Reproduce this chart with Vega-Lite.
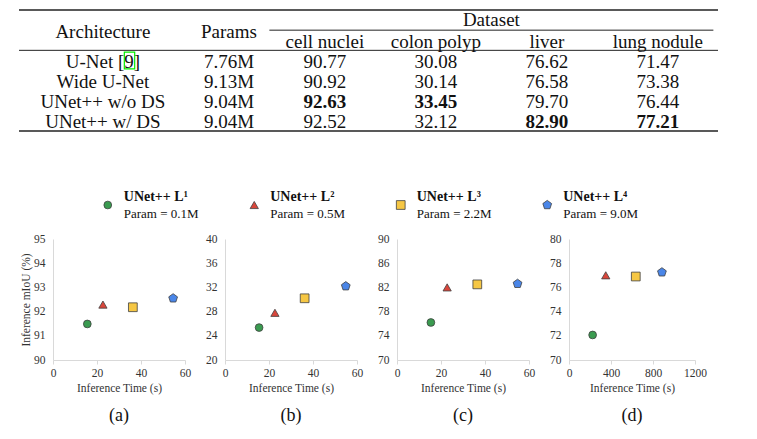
{
  "$schema": "https://vega.github.io/schema/vega-lite/v6.json",
  "padding": {"left": 18, "top": 9, "right": 5, "bottom": 5},
  "spacing": 55,
  "datasets": {
    "results": [
      {"Architecture": "U-Net [9]", "Params": "7.76M", "cell nuclei": 90.77, "colon polyp": 30.08, "liver": 76.62, "lung nodule": 71.47},
      {"Architecture": "Wide U-Net", "Params": "9.13M", "cell nuclei": 90.92, "colon polyp": 30.14, "liver": 76.58, "lung nodule": 73.38},
      {"Architecture": "UNet++ w/o DS", "Params": "9.04M", "cell nuclei": 92.63, "colon polyp": 33.45, "liver": 79.70, "lung nodule": 76.44},
      {"Architecture": "UNet++ w/ DS", "Params": "9.04M", "cell nuclei": 92.52, "colon polyp": 32.12, "liver": 82.90, "lung nodule": 77.21}
    ],
    "models": [
      {"model": "UNet++ L¹", "param": "Param = 0.1M"},
      {"model": "UNet++ L²", "param": "Param = 0.5M"},
      {"model": "UNet++ L³", "param": "Param = 2.2M"},
      {"model": "UNet++ L⁴", "param": "Param = 9.0M"}
    ],
    "points": [
      {"panel": "(a)", "model": "UNet++ L¹", "time": 15.6, "miou": 91.49},
      {"panel": "(a)", "model": "UNet++ L²", "time": 22.7, "miou": 92.29},
      {"panel": "(a)", "model": "UNet++ L³", "time": 36.3, "miou": 92.18},
      {"panel": "(a)", "model": "UNet++ L⁴", "time": 54.6, "miou": 92.55},
      {"panel": "(b)", "model": "UNet++ L¹", "time": 15.5, "miou": 25.36},
      {"panel": "(b)", "model": "UNet++ L²", "time": 22.7, "miou": 27.8},
      {"panel": "(b)", "model": "UNet++ L³", "time": 36.2, "miou": 30.2},
      {"panel": "(b)", "model": "UNet++ L⁴", "time": 54.9, "miou": 32.2},
      {"panel": "(c)", "model": "UNet++ L¹", "time": 15.4, "miou": 76.2},
      {"panel": "(c)", "model": "UNet++ L²", "time": 22.8, "miou": 82.0},
      {"panel": "(c)", "model": "UNet++ L³", "time": 36.5, "miou": 82.5},
      {"panel": "(c)", "model": "UNet++ L⁴", "time": 54.8, "miou": 82.6},
      {"panel": "(d)", "model": "UNet++ L¹", "time": 225, "miou": 72.07},
      {"panel": "(d)", "model": "UNet++ L²", "time": 350, "miou": 77.0},
      {"panel": "(d)", "model": "UNet++ L³", "time": 636, "miou": 76.9},
      {"panel": "(d)", "model": "UNet++ L⁴", "time": 885, "miou": 77.25}
    ]
  },
  "vconcat": [
    {
      "width": 699,
      "height": 121,
      "layer": [
        {
          "data": {"values": [{"row": "Dataset"}]},
          "mark": {"type": "rule", "color": "#222", "strokeWidth": 1.6},
          "encoding": {"y": {"field": "row", "type": "nominal", "bandPosition": 0, "axis": null,
            "scale": {"type": "band", "domain": ["Dataset", "Columns", "U-Net [9]", "Wide U-Net", "UNet++ w/o DS", "UNet++ w/ DS"], "paddingInner": 0, "paddingOuter": 0}}}
        },
        {
          "data": {"values": [{"row": "U-Net [9]"}]},
          "mark": {"type": "rule", "color": "#222", "strokeWidth": 1},
          "encoding": {"y": {"field": "row", "type": "nominal", "bandPosition": 0, "axis": null}}
        },
        {
          "data": {"values": [{"row": "UNet++ w/ DS"}]},
          "mark": {"type": "rule", "color": "#222", "strokeWidth": 1.6},
          "encoding": {"y": {"field": "row", "type": "nominal", "bandPosition": 1, "axis": null}}
        },
        {
          "data": {"values": [{"row": "Columns", "from": "cell nuclei", "to": "lung nodule"}]},
          "mark": {"type": "rule", "color": "#222", "strokeWidth": 1},
          "encoding": {
            "y": {"field": "row", "type": "nominal", "bandPosition": 0, "axis": null},
            "x": {"field": "from", "type": "nominal", "bandPosition": 0, "axis": null,
              "scale": {"type": "band", "domain": ["Architecture", "Params", "cell nuclei", "colon polyp", "liver", "lung nodule"], "paddingInner": 0, "paddingOuter": 0.1486, "align": 0.86}},
            "x2": {"field": "to", "bandPosition": 1}
          }
        },
        {
          "data": {"values": [{"row": "Dataset", "column": "colon polyp", "label": "Dataset"}]},
          "mark": {"type": "text", "font": "Liberation Serif", "fontSize": 19, "baseline": "middle", "color": "#111"},
          "encoding": {
            "x": {"field": "column", "type": "nominal", "bandPosition": 1, "axis": null},
            "y": {"field": "row", "type": "nominal", "axis": null},
            "text": {"field": "label"}
          }
        },
        {
          "data": {"values": [{"row": "Columns", "column": "cell nuclei"}, {"row": "Columns", "column": "colon polyp"}, {"row": "Columns", "column": "liver"}, {"row": "Columns", "column": "lung nodule"}]},
          "mark": {"type": "text", "font": "Liberation Serif", "fontSize": 19, "baseline": "middle", "dy": 1.5, "color": "#111"},
          "encoding": {
            "x": {"field": "column", "type": "nominal", "axis": null},
            "y": {"field": "row", "type": "nominal", "axis": null},
            "text": {"field": "column"}
          }
        },
        {
          "data": {"values": [{"row": "Columns", "column": "Architecture"}]},
          "mark": {"type": "text", "font": "Liberation Serif", "fontSize": 19, "baseline": "middle", "dy": 1.5, "color": "#111"},
          "encoding": {
            "x": {"field": "column", "type": "nominal", "axis": null},
            "y": {"field": "row", "type": "nominal", "bandPosition": 0, "axis": null},
            "text": {"field": "column"}
          }
        },
        {
          "data": {"values": [{"row": "Columns", "column": "Params"}]},
          "mark": {"type": "text", "font": "Liberation Serif", "fontSize": 19, "baseline": "middle", "dy": 1.5, "color": "#111"},
          "encoding": {
            "x": {"field": "column", "type": "nominal", "bandPosition": 0.636, "axis": null},
            "y": {"field": "row", "type": "nominal", "bandPosition": 0, "axis": null},
            "text": {"field": "column"}
          }
        },
        {
          "data": {"name": "results"},
          "transform": [{"fold": ["Architecture"], "as": ["column", "text"]}],
          "mark": {"type": "text", "font": "Liberation Serif", "fontSize": 19, "baseline": "middle", "dy": 1.5, "color": "#111"},
          "encoding": {
            "x": {"field": "column", "type": "nominal", "axis": null},
            "y": {"field": "Architecture", "type": "nominal", "axis": null},
            "text": {"field": "text"}
          }
        },
        {
          "data": {"name": "results"},
          "transform": [{"fold": ["Params"], "as": ["column", "text"]}],
          "mark": {"type": "text", "font": "Liberation Serif", "fontSize": 19, "baseline": "middle", "dy": 1.5, "color": "#111"},
          "encoding": {
            "x": {"field": "column", "type": "nominal", "bandPosition": 0.636, "axis": null},
            "y": {"field": "Architecture", "type": "nominal", "axis": null},
            "text": {"field": "text"}
          }
        },
        {
          "data": {"name": "results"},
          "transform": [
            {"fold": ["cell nuclei", "colon polyp", "liver", "lung nodule"], "as": ["column", "value"]},
            {"joinaggregate": [{"op": "max", "field": "value", "as": "best"}], "groupby": ["column"]},
            {"filter": "datum.value < datum.best"}
          ],
          "mark": {"type": "text", "font": "Liberation Serif", "fontSize": 19, "baseline": "middle", "dy": 1.5, "color": "#111"},
          "encoding": {
            "x": {"field": "column", "type": "nominal", "axis": null},
            "y": {"field": "Architecture", "type": "nominal", "axis": null},
            "text": {"field": "value", "type": "quantitative", "format": ".2f"}
          }
        },
        {
          "data": {"name": "results"},
          "transform": [
            {"fold": ["cell nuclei", "colon polyp", "liver", "lung nodule"], "as": ["column", "value"]},
            {"joinaggregate": [{"op": "max", "field": "value", "as": "best"}], "groupby": ["column"]},
            {"filter": "datum.value === datum.best"}
          ],
          "mark": {"type": "text", "font": "Liberation Serif", "fontSize": 19, "baseline": "middle", "dy": 1.5, "fontWeight": "bold", "color": "#111"},
          "encoding": {
            "x": {"field": "column", "type": "nominal", "axis": null},
            "y": {"field": "Architecture", "type": "nominal", "axis": null},
            "text": {"field": "value", "type": "quantitative", "format": ".2f"}
          }
        },
        {
          "data": {"values": [{"row": "U-Net [9]", "column": "Architecture"}]},
          "mark": {"type": "point", "shape": "M-0.62,-1H0.62V1H-0.62Z", "size": 280, "filled": false, "stroke": "#00ee00", "strokeWidth": 1.2, "opacity": 1},
          "encoding": {
            "x": {"field": "column", "type": "nominal", "bandPosition": 0.74, "axis": null},
            "y": {"field": "row", "type": "nominal", "axis": null}
          }
        }
      ]
    },
    {
      "spacing": 11,
      "vconcat": [
        {
          "width": 617,
          "height": 34,
          "data": {"name": "models"},
          "encoding": {"x": {"field": "model", "type": "nominal", "axis": null,
            "scale": {"type": "point", "domain": ["UNet++ L¹", "UNet++ L²", "UNet++ L³", "UNet++ L⁴"], "padding": 0.606}}},
          "layer": [
            {
              "mark": {"type": "point", "filled": true, "stroke": "#404040", "strokeWidth": 0.8, "opacity": 1},
              "encoding": {
                "shape": {"field": "model", "type": "nominal", "legend": null, "scale": {"domain": ["UNet++ L¹", "UNet++ L²", "UNet++ L³", "UNet++ L⁴"], "range": ["circle", "triangle-up", "square", "M0,-1L0.951,-0.309L0.588,0.809L-0.588,0.809L-0.951,-0.309Z"]}},
                "fill": {"field": "model", "type": "nominal", "legend": null, "scale": {"domain": ["UNet++ L¹", "UNet++ L²", "UNet++ L³", "UNet++ L⁴"], "range": ["#3a9b50", "#d9463b", "#f6c744", "#4a86e8"]}},
                "size": {"field": "model", "type": "nominal", "legend": null, "scale": {"domain": ["UNet++ L¹", "UNet++ L²", "UNet++ L³", "UNet++ L⁴"], "range": [60, 85, 80, 55]}}
              }
            },
            {
              "mark": {"type": "text", "font": "Liberation Serif", "align": "left", "baseline": "middle", "dx": 16, "dy": -8, "fontSize": 14, "fontWeight": "bold", "color": "#111"},
              "encoding": {"text": {"field": "model"}}
            },
            {
              "mark": {"type": "text", "font": "Liberation Serif", "align": "left", "baseline": "middle", "dx": 16, "dy": 9, "fontSize": 13, "color": "#111"},
              "encoding": {"text": {"field": "param"}}
            }
          ]
        },
        {
          "spacing": 0,
          "hconcat": [
            {
              "width": 1,
              "height": 1,
              "data": {"values": []},
              "mark": {"type": "point"},
              "encoding": {}
            },
            {
              "spacing": 14,
              "hconcat": [
                {
                  "width": 132, "height": 121,
                  "title": {"text": "(a)", "orient": "bottom", "frame": "group", "anchor": "middle", "fontSize": 18, "fontWeight": "normal", "offset": 13, "color": "#111"},
                  "data": {"name": "points"},
                  "transform": [{"filter": "datum.panel === '(a)'"}],
                  "mark": {"type": "point", "filled": true, "stroke": "#404040", "strokeWidth": 0.8, "opacity": 1},
                  "encoding": {
                    "x": {"field": "time", "type": "quantitative", "scale": {"domain": [0, 60], "nice": false}, "axis": {"values": [0, 20, 40, 60], "title": "Inference Time (s)"}},
                    "y": {"field": "miou", "type": "quantitative", "scale": {"domain": [90, 95], "nice": false, "zero": false}, "axis": {"values": [90, 91, 92, 93, 94, 95], "title": "Inference mIoU (%)"}},
                    "shape": {"field": "model", "type": "nominal", "legend": null, "scale": {"domain": ["UNet++ L¹", "UNet++ L²", "UNet++ L³", "UNet++ L⁴"], "range": ["circle", "triangle-up", "square", "M0,-1L0.951,-0.309L0.588,0.809L-0.588,0.809L-0.951,-0.309Z"]}},
                    "fill": {"field": "model", "type": "nominal", "legend": null, "scale": {"domain": ["UNet++ L¹", "UNet++ L²", "UNet++ L³", "UNet++ L⁴"], "range": ["#3a9b50", "#d9463b", "#f6c744", "#4a86e8"]}},
                    "size": {"field": "model", "type": "nominal", "legend": null, "scale": {"domain": ["UNet++ L¹", "UNet++ L²", "UNet++ L³", "UNet++ L⁴"], "range": [80, 115, 100, 105]}}
                  }
                },
                {
                  "width": 132, "height": 121,
                  "title": {"text": "(b)", "orient": "bottom", "frame": "group", "anchor": "middle", "fontSize": 18, "fontWeight": "normal", "offset": 13, "color": "#111"},
                  "data": {"name": "points"},
                  "transform": [{"filter": "datum.panel === '(b)'"}],
                  "mark": {"type": "point", "filled": true, "stroke": "#404040", "strokeWidth": 0.8, "opacity": 1},
                  "encoding": {
                    "x": {"field": "time", "type": "quantitative", "scale": {"domain": [0, 60], "nice": false}, "axis": {"values": [0, 20, 40, 60], "title": "Inference Time (s)"}},
                    "y": {"field": "miou", "type": "quantitative", "scale": {"domain": [20, 40], "nice": false, "zero": false}, "axis": {"values": [20, 24, 28, 32, 36, 40], "title": null}},
                    "shape": {"field": "model", "type": "nominal", "legend": null, "scale": {"domain": ["UNet++ L¹", "UNet++ L²", "UNet++ L³", "UNet++ L⁴"], "range": ["circle", "triangle-up", "square", "M0,-1L0.951,-0.309L0.588,0.809L-0.588,0.809L-0.951,-0.309Z"]}},
                    "fill": {"field": "model", "type": "nominal", "legend": null, "scale": {"domain": ["UNet++ L¹", "UNet++ L²", "UNet++ L³", "UNet++ L⁴"], "range": ["#3a9b50", "#d9463b", "#f6c744", "#4a86e8"]}},
                    "size": {"field": "model", "type": "nominal", "legend": null, "scale": {"domain": ["UNet++ L¹", "UNet++ L²", "UNet++ L³", "UNet++ L⁴"], "range": [80, 115, 100, 105]}}
                  }
                },
                {
                  "width": 132, "height": 121,
                  "title": {"text": "(c)", "orient": "bottom", "frame": "group", "anchor": "middle", "fontSize": 18, "fontWeight": "normal", "offset": 13, "color": "#111"},
                  "data": {"name": "points"},
                  "transform": [{"filter": "datum.panel === '(c)'"}],
                  "mark": {"type": "point", "filled": true, "stroke": "#404040", "strokeWidth": 0.8, "opacity": 1},
                  "encoding": {
                    "x": {"field": "time", "type": "quantitative", "scale": {"domain": [0, 60], "nice": false}, "axis": {"values": [0, 20, 40, 60], "title": "Inference Time (s)"}},
                    "y": {"field": "miou", "type": "quantitative", "scale": {"domain": [70, 90], "nice": false, "zero": false}, "axis": {"values": [70, 74, 78, 82, 86, 90], "title": null}},
                    "shape": {"field": "model", "type": "nominal", "legend": null, "scale": {"domain": ["UNet++ L¹", "UNet++ L²", "UNet++ L³", "UNet++ L⁴"], "range": ["circle", "triangle-up", "square", "M0,-1L0.951,-0.309L0.588,0.809L-0.588,0.809L-0.951,-0.309Z"]}},
                    "fill": {"field": "model", "type": "nominal", "legend": null, "scale": {"domain": ["UNet++ L¹", "UNet++ L²", "UNet++ L³", "UNet++ L⁴"], "range": ["#3a9b50", "#d9463b", "#f6c744", "#4a86e8"]}},
                    "size": {"field": "model", "type": "nominal", "legend": null, "scale": {"domain": ["UNet++ L¹", "UNet++ L²", "UNet++ L³", "UNet++ L⁴"], "range": [80, 115, 100, 105]}}
                  }
                },
                {
                  "width": 126, "height": 121,
                  "title": {"text": "(d)", "orient": "bottom", "frame": "group", "anchor": "middle", "fontSize": 18, "fontWeight": "normal", "offset": 13, "color": "#111"},
                  "data": {"name": "points"},
                  "transform": [{"filter": "datum.panel === '(d)'"}],
                  "mark": {"type": "point", "filled": true, "stroke": "#404040", "strokeWidth": 0.8, "opacity": 1},
                  "encoding": {
                    "x": {"field": "time", "type": "quantitative", "scale": {"domain": [0, 1200], "nice": false}, "axis": {"values": [0, 400, 800, 1200], "format": "d", "title": "Inference Time (s)"}},
                    "y": {"field": "miou", "type": "quantitative", "scale": {"domain": [70, 80], "nice": false, "zero": false}, "axis": {"values": [70, 72, 74, 76, 78, 80], "title": null}},
                    "shape": {"field": "model", "type": "nominal", "legend": null, "scale": {"domain": ["UNet++ L¹", "UNet++ L²", "UNet++ L³", "UNet++ L⁴"], "range": ["circle", "triangle-up", "square", "M0,-1L0.951,-0.309L0.588,0.809L-0.588,0.809L-0.951,-0.309Z"]}},
                    "fill": {"field": "model", "type": "nominal", "legend": null, "scale": {"domain": ["UNet++ L¹", "UNet++ L²", "UNet++ L³", "UNet++ L⁴"], "range": ["#3a9b50", "#d9463b", "#f6c744", "#4a86e8"]}},
                    "size": {"field": "model", "type": "nominal", "legend": null, "scale": {"domain": ["UNet++ L¹", "UNet++ L²", "UNet++ L³", "UNet++ L⁴"], "range": [80, 115, 100, 105]}}
                  }
                }
              ]
            }
          ]
        }
      ]
    }
  ],
  "config": {
    "view": {"stroke": null},
    "font": "Liberation Serif",
    "axis": {
      "grid": false,
      "domainColor": "#d9d9d9",
      "tickColor": "#d9d9d9",
      "labelFont": "Liberation Serif",
      "labelFontSize": 11.5,
      "labelColor": "#333",
      "labelFlush": false,
      "labelOverlap": false,
      "titleFont": "Liberation Serif",
      "titleFontSize": 11.5,
      "titleFontWeight": "normal",
      "titleColor": "#333"
    },
    "axisX": {"tickSize": 4, "labelPadding": 3, "titlePadding": 4},
    "axisY": {"ticks": false, "labelPadding": 8, "titlePadding": 2.5}
  }
}
